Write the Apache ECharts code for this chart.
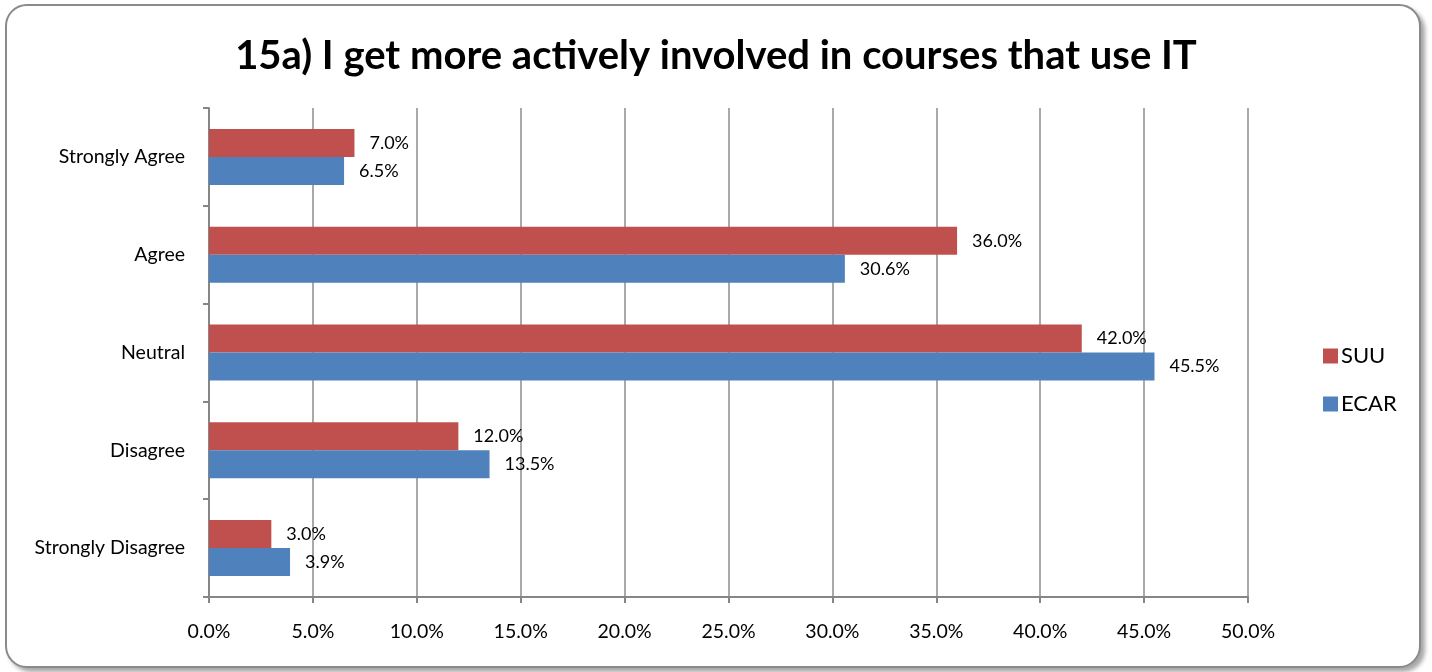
<!DOCTYPE html>
<html>
<head>
<meta charset="utf-8">
<script src="https://cdn.jsdelivr.net/npm/echarts@6/dist/echarts.min.js"></script>
<style>
html,body{margin:0;padding:0;background:#fff;width:1432px;height:672px;overflow:hidden;}
#frame{position:absolute;left:5px;top:4px;width:1412px;height:660px;border:2px solid #8a8a8a;border-radius:22px;box-shadow:4px 4px 4px rgba(0,0,0,0.35);background:#fff;}
#chart{position:absolute;left:0;top:0;width:1432px;height:672px;}
</style>
</head>
<body>
<div id="frame"></div>
<div id="chart"></div>
<script>
// Categories listed bottom-to-top
const categories = ['Strongly Disagree', 'Disagree', 'Neutral', 'Agree', 'Strongly Agree'];
const suuValues = [3.0, 12.0, 42.0, 36.0, 7.0];
const ecarValues = [3.9, 13.5, 45.5, 30.6, 6.5];
const xTicks = [0, 5, 10, 15, 20, 25, 30, 35, 40, 45, 50];

const FONT = 'Lato, "Open Sans", sans-serif';
const chart = echarts.init(document.getElementById('chart'), null, {renderer: 'canvas'});
const labelOpt = {
  show: true, position: 'right', distance: 15,
  color: '#000', fontSize: 18, fontFamily: FONT,
  formatter: p => p.value.toFixed(1) + '%'
};
chart.setOption({
  animation: false,
  backgroundColor: 'transparent',
  title: {
    text: '15a) I get more actively involved in courses that use IT',
    left: 'center', top: 31,
    textStyle: {fontSize: 40, fontWeight: 'bold', color: '#000', fontFamily: FONT}
  },
  legend: {
    data: ['SUU', 'ECAR'],
    orient: 'vertical', left: 1318, top: 340,
    itemWidth: 15, itemHeight: 15, itemGap: 26,
    icon: 'rect',
    textStyle: {fontSize: 22, color: '#000', fontFamily: FONT, padding: [0, 0, 0, -2]}
  },
  grid: {left: 209, right: 184, top: 108, bottom: 75, containLabel: false},
  xAxis: {
    type: 'value', min: xTicks[0], max: xTicks[xTicks.length - 1], interval: 5,
    axisLine: {show: true, lineStyle: {color: '#868686', width: 2}},
    axisTick: {show: true, length: 6, lineStyle: {color: '#868686', width: 2}},
    splitLine: {show: true, lineStyle: {color: '#8c8c8c', width: 1.5}},
    axisLabel: {color: '#000', fontSize: 19.5, fontFamily: FONT, margin: 25,
      formatter: v => v.toFixed(1) + '%'}
  },
  yAxis: {
    type: 'category', data: categories,
    axisLine: {show: true, lineStyle: {color: '#868686', width: 2}},
    axisTick: {show: true, length: 6, lineStyle: {color: '#868686', width: 2}},
    axisLabel: {color: '#000', fontSize: 19.5, fontFamily: FONT, margin: 24}
  },
  series: [
    {name: 'SUU', type: 'bar', data: suuValues, barWidth: 28, barGap: '0%',
      itemStyle: {color: '#C0504D'}, label: labelOpt},
    {name: 'ECAR', type: 'bar', data: ecarValues, barWidth: 28, barGap: '0%',
      itemStyle: {color: '#4F81BD'}, label: labelOpt}
  ]
});
</script>
</body>
</html>
